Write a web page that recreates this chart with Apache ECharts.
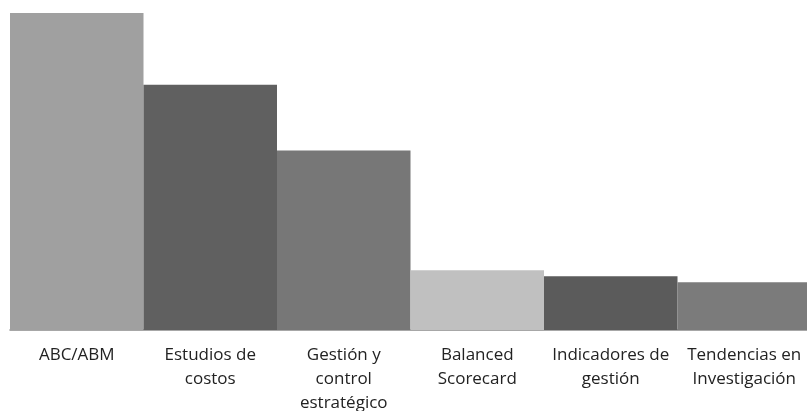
<!DOCTYPE html>
<html>
<head>
<meta charset="utf-8">
<script src="https://cdn.jsdelivr.net/npm/echarts@6/dist/echarts.min.js"></script>
<style>
  html, body { margin: 0; padding: 0; background: #fff; }
  #chart { width: 807px; height: 411px; }
</style>
</head>
<body>
<div id="chart"></div>
<script>
// Topics and their counts
const categories = ['ABC/ABM', 'Estudios de costos', 'Gestión y control estratégico', 'Balanced Scorecard', 'Indicadores de gestión', 'Tendencias en Investigación'];
const tickLabels = ['ABC/ABM', 'Estudios de\ncostos', 'Gestión y\ncontrol\nestratégico', 'Balanced\nScorecard', 'Indicadores de\ngestión', 'Tendencias en\nInvestigación'];
const values = [53, 41, 30, 10, 9, 8];
const barColors = ['#a0a0a0', '#606060', '#777777', '#c0c0c0', '#5b5b5b', '#7b7b7b'];

const chart = echarts.init(document.getElementById('chart'), null, { renderer: 'canvas' });
chart.setOption({
  animation: false,
  // plot area runs slightly past the right edge of the canvas
  grid: { left: 10, width: 801, top: 13, height: 317, containLabel: false, outerBoundsMode: 'none' },
  xAxis: {
    type: 'category',
    data: categories,
    axisLine: { show: true, lineStyle: { color: '#8a8a8a', width: 1.5 } },
    axisTick: { show: false },
    axisLabel: {
      interval: 0,
      margin: 13,
      color: '#222222',
      fontFamily: 'Open Sans',
      fontSize: 17,
      lineHeight: 24,
      formatter: (v, i) => tickLabels[i]
    }
  },
  yAxis: {
    type: 'value',
    min: 0,
    max: 53,
    show: false,
    splitLine: { show: false }
  },
  series: [{
    type: 'bar',
    barCategoryGap: 0,
    barGap: 0,
    data: values.map((v, i) => ({ value: v, itemStyle: { color: barColors[i] } }))
  }]
});
</script>
</body>
</html>
